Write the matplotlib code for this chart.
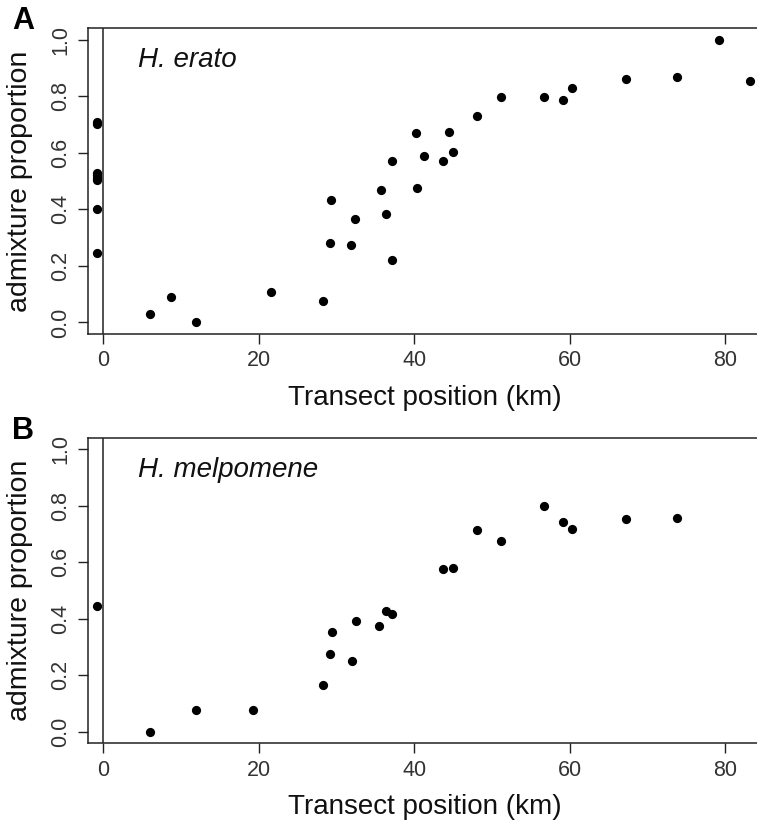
import matplotlib.pyplot as plt

# panel A: H. erato
erato_km = [-0.85, -0.85, -0.85, -0.85, -0.85, -0.85, -0.85, -0.85,
            6.0, 8.7, 11.9, 21.6, 28.2, 29.2, 29.3, 31.9, 32.4, 35.7, 36.4,
            37.1, 37.1, 40.2, 40.4, 41.3, 43.7, 44.5, 45.0, 48.1, 51.1, 56.7,
            59.1, 60.3, 67.2, 73.8, 79.2, 83.2]
erato_adm = [0.71, 0.70, 0.53, 0.52, 0.51, 0.505, 0.40, 0.245,
             0.028, 0.091, 0.0, 0.108, 0.075, 0.282, 0.434, 0.273, 0.367, 0.467, 0.382,
             0.571, 0.222, 0.669, 0.476, 0.589, 0.571, 0.674, 0.604, 0.731, 0.796, 0.796,
             0.787, 0.829, 0.862, 0.867, 0.999, 0.853]

# panel B: H. melpomene
melp_km = [-0.85, 6.0, 11.9, 19.2, 28.3, 29.2, 29.4, 32.0, 32.5, 35.5, 36.4, 37.1,
           43.7, 45.0, 48.1, 51.1, 56.7, 59.1, 60.3, 67.2, 73.8]
melp_adm = [0.444, 0.0, 0.076, 0.076, 0.165, 0.274, 0.354, 0.251, 0.392, 0.373, 0.427, 0.418,
            0.575, 0.580, 0.713, 0.675, 0.798, 0.741, 0.718, 0.751, 0.755]

xticks = [0, 20, 40, 60, 80]
yticks = [0.0, 0.2, 0.4, 0.6, 0.8, 1.0]

plt.rcParams['font.family'] = ['Liberation Sans', 'DejaVu Sans']

W, H = 757, 823
fig = plt.figure(figsize=(W / 100, H / 100), dpi=100)


def panel(top, bottom, xs, ys, name, letter):
    ax = fig.add_axes([88 / W, 1 - bottom / H, (W - 88) / W, (bottom - top) / H])
    ax.scatter(xs, ys, s=44, c='black', linewidths=0, zorder=3)
    ax.axvline(0, color='#222222', lw=1.1)
    ax.set_xlim(-1.97, 84.07)
    ax.set_ylim(-0.04, 1.04)
    ax.set_xticks(xticks)
    ax.set_yticks(yticks)
    ax.set_yticklabels(['%.1f' % v for v in yticks], rotation=90, va='center')
    ax.spines['right'].set_visible(False)
    for s in ['left', 'top', 'bottom']:
        ax.spines[s].set_linewidth(1.1)
        ax.spines[s].set_color('#222222')
    ax.tick_params(axis='both', length=7, width=1.0, color='#222222',
                   labelsize=15.5, labelcolor='#333333', pad=5)
    ax.set_xlabel('Transect position (km)', fontsize=20, color='#111111')
    ax.set_ylabel('admixture proportion', fontsize=20.5, color='#111111')
    ax.xaxis.set_label_coords(0.504, -0.168)
    ax.yaxis.set_label_coords(-0.082, 0.5)
    ax.text(0.075, 0.895, name, transform=ax.transAxes, fontsize=20,
            style='italic', va='center', ha='left', color='#111111')
    fig.text(12 / W, 1 - (top - 7) / H, letter, fontsize=22, fontweight='bold',
             va='center', ha='left')
    return ax


panel(28.3, 333.7, erato_km, erato_adm, 'H. erato', 'A')
panel(437.7, 743.0, melp_km, melp_adm, 'H. melpomene', 'B')

fig.savefig('out.png', dpi=100)
